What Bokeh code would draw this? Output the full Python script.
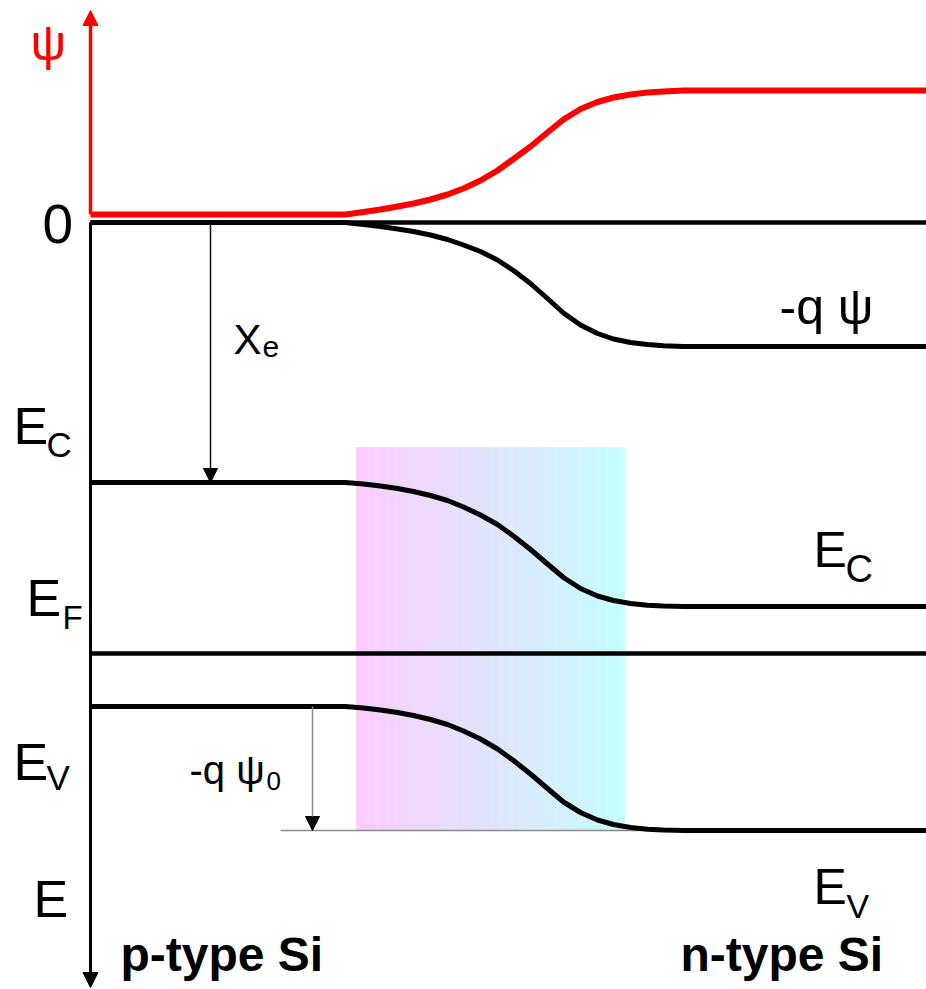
from bokeh.plotting import figure
from bokeh.models import Range1d, Arrow, NormalHead
from bokeh.core.properties import value
from bokeh.embed import file_html
from bokeh.resources import INLINE

# ---- data (pixel units; y grows downward) ----
x_left = 90          # energy / potential axis position
x_right = 926        # right edge of diagram

# x samples across the depletion region
x_samples = [345, 363, 380, 397, 413, 430, 447, 463, 480, 497, 513,
             530, 547, 563, 580, 597, 613, 630, 647, 663, 683]

psi_curve = [214, 211.5, 209, 206, 203, 199, 194, 188, 180, 170, 158.5,
             146, 132, 119, 108.5, 101.5, 97, 94, 92, 91, 90]
vac_curve = [222, 224, 226, 228.5, 231, 234.5, 239, 244.5, 251, 259.5, 270,
             283, 298, 312.5, 324.5, 333, 338.5, 342, 344, 345.3, 346]
ec_curve = [482, 483.5, 485.5, 488, 491, 495, 500, 506.5, 514.5, 524, 535.5,
            549, 563.5, 577, 588, 595.5, 600, 603, 604.8, 605.6, 606]
ev_curve = [706, 707.5, 709.5, 712, 715, 719, 724, 730.5, 738.5, 748.5, 760,
            773.5, 788, 801.5, 812, 819.5, 824, 827, 828.8, 829.6, 830]

vacuum_level = 222   # "0"
fermi_level = 653
axis_top = 10
axis_bottom = 987

# depletion region box and its gradient stops
box_left, box_right, box_top, box_bottom = 356, 624, 447, 830
grad_start = (252, 204, 253)
grad_end = (198, 253, 253)
n_strips = 80

# arrows: chi_e and -q psi_0
chi_x = 210
psi0_x = 312
psi0_line_x = [280, 640]

# labels (y = anchor used by the renderer)
lbl_text = ["0", "E", "E", "E", "E", "-q ψ", "E", "E", "e", "-q ψ"]
lbl_x = [42, 13, 26, 13, 33, 779, 813, 813, 262, 189]
lbl_y = [223, 425, 597, 761, 898, 306, 549, 886, 346, 769]
lbl_size = ["55px", "52px", "52px", "52px", "52px", "50px", "50px", "50px", "30px", "40px"]

sub_text = ["C", "F", "V", "C", "V", "0"]
sub_x = [46, 62, 46, 845, 846, 266]
sub_y = [444, 617, 777, 568, 905, 780]
sub_size = ["35px", "33px", "35px", "38px", "34px", "26px"]

chi_text = ["Χ"]
chi_tx = [233]
chi_ty = [339]

red_text = ["ψ"]
red_x = [30]
red_y = [42]

bold_text = ["p-type Si", "n-type Si"]
bold_x = [120, 680]
bold_y = [954, 954]

# ---- figure ----
p = figure(width=926, height=989, x_range=Range1d(0, 926), y_range=Range1d(989, 0),
           output_backend="svg", toolbar_location=None, min_border=0,
           x_axis_type=None, y_axis_type=None)
p.grid.visible = False
p.outline_line_color = None
p.background_fill_color = "white"

# gradient box built from strips
w = (box_right - box_left) / n_strips
lefts, rights, cols = [], [], []
for i in range(n_strips):
    t = i / (n_strips - 1)
    r = round(grad_start[0] + (grad_end[0] - grad_start[0]) * t)
    g = round(grad_start[1] + (grad_end[1] - grad_start[1]) * t)
    b = round(grad_start[2] + (grad_end[2] - grad_start[2]) * t)
    lefts.append(box_left + i * w)
    rights.append(box_left + (i + 1) * w)
    cols.append("#%02x%02x%02x" % (r, g, b))
p.quad(left=lefts, right=rights, top=box_top, bottom=box_bottom,
       fill_color=cols, line_color=cols, line_width=0.8)

# thin reference line at n-side valence level
p.line(psi0_line_x, [ev_curve[-1]] * 2, line_color="#8a8a8a", line_width=1.5)


def band(curve, color, width):
    xs = [x_left] + x_samples + [x_right]
    ys = [curve[0]] + curve + [curve[-1]]
    p.line(xs, ys, line_color=color, line_width=width, line_join="round")


# vacuum zero line and Fermi level
p.line([x_left, x_right], [vacuum_level, vacuum_level], line_color="black", line_width=4.5)
p.line([x_left, x_right], [fermi_level, fermi_level], line_color="black", line_width=4.5)

band(vac_curve, "black", 5)
band(ec_curve, "black", 5)
band(ev_curve, "black", 5)
band(psi_curve, "#ff0000", 6)

# axes as arrows
p.add_layout(Arrow(end=NormalHead(size=15, fill_color="black", line_color="black"),
                   x_start=x_left, y_start=vacuum_level, x_end=x_left, y_end=axis_bottom,
                   line_color="black", line_width=3))
p.add_layout(Arrow(end=NormalHead(size=15, fill_color="#ff0000", line_color="#ff0000"),
                   x_start=x_left, y_start=psi_curve[0], x_end=x_left, y_end=axis_top,
                   line_color="#ff0000", line_width=3.5))
p.add_layout(Arrow(end=NormalHead(size=14, fill_color="black", line_color="black"),
                   x_start=chi_x, y_start=vacuum_level, x_end=chi_x, y_end=ec_curve[0],
                   line_color="#111111", line_width=1.5))
p.add_layout(Arrow(end=NormalHead(size=14, fill_color="black", line_color="black"),
                   x_start=psi0_x, y_start=ev_curve[0], x_end=psi0_x, y_end=ev_curve[-1],
                   line_color="#8a8a8a", line_width=1.5))

font = value("Liberation Sans")
p.text(x=lbl_x, y=lbl_y, text=lbl_text, text_font=font, text_font_size=lbl_size,
       text_color="black", text_align="left", text_baseline="alphabetic")
p.text(x=sub_x, y=sub_y, text=sub_text, text_font=font, text_font_size=sub_size,
       text_color="black", text_align="left", text_baseline="alphabetic")
p.text(x=chi_tx, y=chi_ty, text=chi_text, text_font=font, text_font_size="42px",
       text_color="black", text_align="left", text_baseline="alphabetic")
p.text(x=red_x, y=red_y, text=red_text, text_font=font, text_font_size="50px",
       text_color="#ff0000", text_align="left", text_baseline="alphabetic")
p.text(x=bold_x, y=bold_y, text=bold_text, text_font=font, text_font_size="48px",
       text_font_style="bold", text_color="black", text_align="left",
       text_baseline="alphabetic")

open("out.html", "w").write(file_html(p, INLINE))
